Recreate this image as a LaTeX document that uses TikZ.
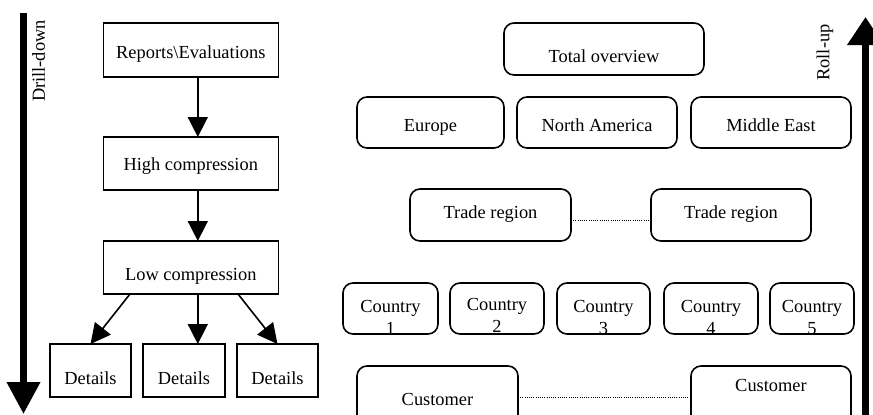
\documentclass[tikz,border=0pt]{standalone}
\usepackage{fontspec}
\setmainfont{Liberation Serif}
\usetikzlibrary{arrows.meta, positioning}
\newcommand{\boxfont}{\fontsize{9.2pt}{11pt}\selectfont}
% text set lower in its box (baseline below the centre)
\newcommand{\dn}[2]{\raisebox{-#1}[0pt][0pt]{#2}}
\newcommand{\ctry}[2]{\dn{#1}{\begin{tabular}[b]{@{}c@{}}Country\\#2\end{tabular}}}
\tikzset{
  sqbox/.style ={rectangle, draw=black, line width=0.8pt, align=center,
                 font=\boxfont, inner sep=1pt, outer sep=0pt,
                 minimum height=26.5pt},
  rbox/.style  ={sqbox, rounded corners=5pt, minimum height=25.5pt},
  ar/.style    ={-{Triangle[length=10pt, width=10pt]}, line width=0.8pt},
  bigar/.style ={line width=3.5pt, -{Triangle[#1]}},
  dots/.style  ={line width=0.5pt, dash pattern=on 0.5pt off 0.6pt},
  side/.style  ={font=\boxfont, rotate=90, inner sep=0pt}
}
\begin{document}
\begin{tikzpicture}[x=0.5pt, y=-0.5pt]
\useasboundingbox (0,0) rectangle (873,414);

% drill-down side
\coordinate (dtop) at (23.5,13);
\coordinate (dend) at (23.5,414);
\draw[bigar={length=16pt, width=16pt}] (dtop) -- (dend);
\node[side] (dlab) at (38.5,61) {Drill-down};

\node[sqbox, minimum width=87.5pt, minimum height=27pt] (rep) at (190.8,50)
      {\dn{4.2pt}{Reports\textbackslash Evaluations}};
\node[sqbox, minimum width=87.5pt, below=30pt of rep] (high)
      {\dn{3.25pt}{High compression}};
\node[sqbox, minimum width=87.5pt, below=25.5pt of high] (low)
      {\dn{6.25pt}{Low compression}};
\node[sqbox, minimum width=41pt] (det2) at (184,370.5) {\dn{6.75pt}{Details}};
\node[sqbox, minimum width=40.5pt, left=6pt of det2] (det1) {\dn{6.75pt}{Details}};
\node[sqbox, minimum width=40.5pt, right=6pt of det2] (det3) {\dn{6.75pt}{Details}};

\draw[ar] ([xshift=3.5pt]rep.south) -- ([xshift=3.5pt]high.north);
\draw[ar] ([xshift=3.5pt]high.south) -- ([xshift=3.5pt]low.north);
\draw[ar] ([xshift=-30.4pt]low.south) -- (det1.north);
\draw[ar] ([xshift=3.5pt]low.south) -- ([xshift=3.5pt]low.south |- det2.north);
\draw[ar] ([xshift=23.6pt]low.south) -- (det3.north);

% roll-up side
\coordinate (rbot) at (865.5,420);
\coordinate (rtop) at (865.5,17);
\draw[bigar={length=14pt, width=17.5pt}] (rbot) -- (rtop);
\node[side] (rlab) at (825,52.5) {Roll-up};

\node[rbox, minimum width=100pt, minimum height=26pt] (tot) at (604,49)
      {\dn{6.75pt}{Total overview}};
\node[rbox, minimum width=73.5pt] (eur) at (430.5,122.5) {\dn{4.5pt}{Europe}};
\node[rbox, minimum width=80pt, right=6.5pt of eur] (nam) {\dn{4.5pt}{North America}};
\node[rbox, minimum width=80pt, right=7pt of nam] (mde) {\dn{4.5pt}{Middle East}};

\node[rbox, minimum width=80.5pt, minimum height=26pt] (tr1) at (490.5,215)
      {\dn{1.5pt}{Trade region}};
\node[rbox, minimum width=80pt, minimum height=26pt] (tr2) at (731,215)
      {\dn{1.5pt}{Trade region}};
\draw[dots] ([yshift=-2.5pt]tr1.east) -- ([yshift=-2.5pt]tr2.west);

\node[rbox, minimum width=47.5pt] (c1) at (390.5,308.5) {\ctry{13pt}{1}};
\node[rbox, minimum width=47pt, right=6pt of c1] (c2) {\ctry{12pt}{2}};
\node[rbox, minimum width=46.5pt, right=6.5pt of c2] (c3) {\ctry{13pt}{3}};
\node[rbox, minimum width=47pt, right=7pt of c3] (c4) {\ctry{13pt}{4}};
\node[rbox, minimum width=42pt, right=6pt of c4] (c5) {\ctry{13pt}{5}};

\node[rbox, minimum width=80.5pt, minimum height=37pt] (cu1) at (437.5,403)
      {\dn{1pt}{Customer}};
\node[rbox, minimum width=80pt, minimum height=37pt] (cu2) at (771,403)
      {\dn{-6pt}{Customer}};
\draw[dots] ([yshift=3pt]cu1.east) -- ([yshift=3pt]cu2.west);

\end{tikzpicture}
\end{document}
